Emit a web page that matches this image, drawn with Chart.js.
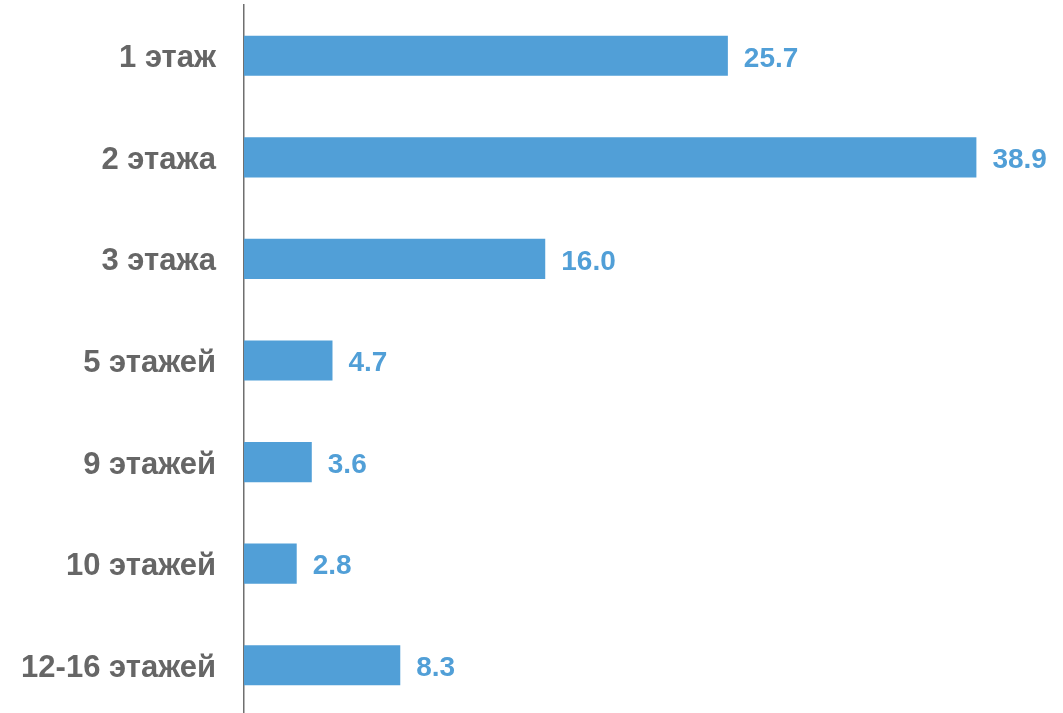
<!DOCTYPE html>
<html>
<head>
<meta charset="utf-8">
<script src="https://cdn.jsdelivr.net/npm/chart.js@4"></script>
<style>
  html, body { margin: 0; padding: 0; background: #fff; overflow: hidden; }
  #wrap { position: relative; width: 1063px; height: 716px; }
</style>
</head>
<body>
<div id="wrap"><canvas id="c"></canvas></div>
<script>
const categories = ["1 этаж", "2 этажа", "3 этажа", "5 этажей", "9 этажей", "10 этажей", "12-16 этажей"];
const values = [25.7, 38.9, 16.0, 4.7, 3.6, 2.8, 8.3];

const barColor = "#519FD7";
const labelColor = "#666666";
const FONT = "'Liberation Sans', Arial, sans-serif";

const valueLabels = {
  id: "valueLabels",
  afterDatasetsDraw(chart) {
    const ctx = chart.ctx;
    const meta = chart.getDatasetMeta(0);
    ctx.save();
    ctx.font = "bold 28px " + FONT;
    ctx.fillStyle = barColor;
    ctx.textAlign = "left";
    ctx.textBaseline = "middle";
    meta.data.forEach((el, i) => {
      ctx.fillText(values[i].toFixed(1), el.x + 16, el.y + 3);
    });
    ctx.restore();
  }
};

new Chart(document.getElementById("c"), {
  type: "bar",
  data: {
    labels: categories,
    datasets: [{
      data: values,
      backgroundColor: barColor,
      borderWidth: 0,
      barPercentage: 0.79,
      categoryPercentage: 0.5
    }]
  },
  options: {
    indexAxis: "y",
    responsive: true,
    maintainAspectRatio: false,
    animation: false,
    layout: { padding: { top: 5, right: 0, bottom: 0, left: 0 } },
    plugins: { legend: { display: false }, tooltip: { enabled: false } },
    scales: {
      x: {
        min: 0,
        max: 43.5,
        display: false,
        grid: { display: false }
      },
      y: {
        grid: { display: false, drawTicks: false },
        border: { display: true, color: "#6f6f6f", width: 1.5 },
        ticks: {
          color: labelColor,
          font: { family: FONT, size: 31, weight: "bold" },
          padding: 28,
          labelOffset: 3
        },
        afterFit(scale) {
          scale.width = 244;
          scale.paddingTop = 0;
          scale.paddingBottom = 0;
        }
      }
    }
  },
  plugins: [valueLabels]
});
</script>
</body>
</html>
